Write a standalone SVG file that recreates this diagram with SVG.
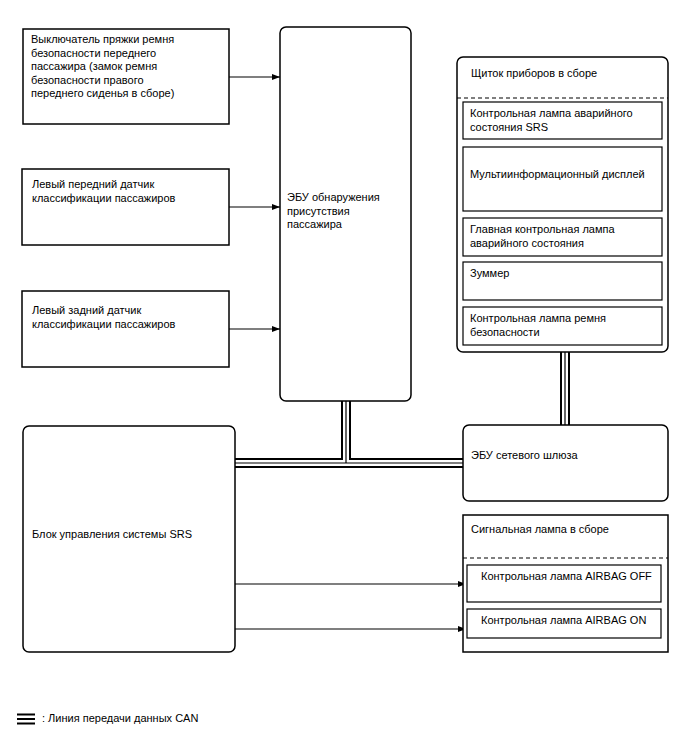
<svg xmlns="http://www.w3.org/2000/svg" width="688" height="755" viewBox="0 0 688 755">
<style>
text{font-family:"Liberation Sans",Arial,sans-serif;font-size:11px;fill:#000}
.box{fill:#fff;stroke:#000;stroke-width:1.5}
.in{fill:#fff;stroke:#000;stroke-width:1.2}
.dash{stroke:#000;stroke-width:1.2;stroke-dasharray:4,3;fill:none}
.arr{stroke:#000;stroke-width:1.2;fill:none;marker-end:url(#ah)}
.canO{stroke:#000;stroke-width:10;fill:none}
.canW{stroke:#fff;stroke-width:6;fill:none}
.canC{stroke:#000;stroke-width:1.2;fill:none}
</style>
<defs>
<marker id="ah" markerWidth="8" markerHeight="6" refX="8" refY="3" orient="auto" markerUnits="userSpaceOnUse">
<path d="M0,0 L8,3 L0,6 Z" fill="#000"/>
</marker>
</defs>
<rect width="688" height="755" fill="#fff"/>
<g id="connectors">
<path class="canO" d="M235,463 H463 M346,401 V463 M565,352 V425"/>
<path class="canW" d="M235,463 H463 M346,401 V463 M565,352 V425"/>
<path class="canC" d="M235,463 H463 M346,401 V463 M565,352 V425"/>
<path class="arr" d="M229,77 H280"/>
<path class="arr" d="M229,207 H280"/>
<path class="arr" d="M229,329 H280"/>
<path class="arr" d="M235,584 H466"/>
<path class="arr" d="M235,629 H466"/>
</g>
<g id="buckle">
<rect class="box" x="23" y="29" width="206" height="95"/>
<text x="31" y="43">Выключатель пряжки ремня</text>
<text x="31" y="56.5">безопасности переднего</text>
<text x="31" y="70">пассажира (замок ремня</text>
<text x="31" y="83.5">безопасности правого</text>
<text x="31" y="97">переднего сиденья в сборе)</text>
</g>
<g id="front-sensor">
<rect class="box" x="22" y="169" width="207" height="76"/>
<text x="32" y="188">Левый передний датчик</text>
<text x="32" y="201.5">классификации пассажиров</text>
</g>
<g id="rear-sensor">
<rect class="box" x="22" y="291" width="207" height="76"/>
<text x="32" y="314">Левый задний датчик</text>
<text x="32" y="327.5">классификации пассажиров</text>
</g>
<g id="ecu">
<rect class="box" x="280" y="27" width="131" height="374" rx="6"/>
<text x="287" y="201">ЭБУ обнаружения</text>
<text x="287" y="214.5">присутствия</text>
<text x="287" y="228">пассажира</text>
</g>
<g id="cluster">
<rect class="box" x="457" y="57" width="211" height="295" rx="6"/>
<text x="471" y="77">Щиток приборов в сборе</text>
<line class="dash" x1="457" y1="98" x2="668" y2="98"/>
<rect class="in" x="463" y="102" width="199" height="37"/>
<text x="470" y="117">Контрольная лампа аварийного</text>
<text x="470" y="130.5">состояния SRS</text>
<rect class="in" x="463" y="147" width="199" height="64"/>
<text x="470" y="178">Мультиинформационный дисплей</text>
<rect class="in" x="463" y="218" width="199" height="38"/>
<text x="470" y="233">Главная контрольная лампа</text>
<text x="470" y="246.5">аварийного состояния</text>
<rect class="in" x="463" y="262" width="199" height="38"/>
<text x="470" y="277">Зуммер</text>
<rect class="in" x="463" y="307" width="199" height="38"/>
<text x="470" y="322">Контрольная лампа ремня</text>
<text x="470" y="335.5">безопасности</text>
</g>
<g id="srs">
<rect class="box" x="23" y="426" width="212" height="226" rx="6"/>
<text x="32" y="538">Блок управления системы SRS</text>
</g>
<g id="gateway">
<rect class="box" x="463" y="425" width="205" height="76" rx="6"/>
<text x="471" y="459">ЭБУ сетевого шлюза</text>
</g>
<g id="signal-lamp">
<rect class="box" x="463" y="515" width="205" height="137"/>
<text x="471" y="533">Сигнальная лампа в сборе</text>
<line class="dash" x1="463" y1="558" x2="668" y2="558"/>
<rect class="in" x="467" y="565" width="194" height="37"/>
<text x="481" y="580">Контрольная лампа AIRBAG OFF</text>
<rect class="in" x="467" y="609" width="194" height="29"/>
<text x="481" y="624">Контрольная лампа AIRBAG ON</text>
</g>
<g id="legend">
<path d="M17,714.5 H35 M17,719 H35 M17,723.5 H35" stroke="#000" stroke-width="2" fill="none"/>
<text x="42" y="722">: Линия передачи данных CAN</text>
</g>
</svg>
